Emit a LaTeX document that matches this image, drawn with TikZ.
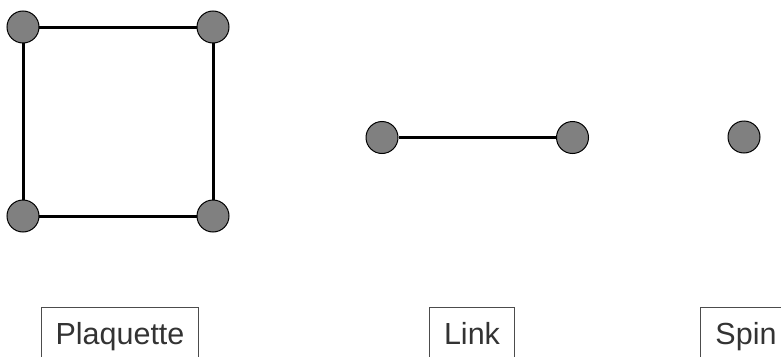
\documentclass[tikz,border=0pt]{standalone}
\usepackage{fontspec}
\setmainfont{Liberation Sans}
\begin{document}
\begin{tikzpicture}[x=1pt,y=-1pt,
  site/.style={circle,draw=black,line width=1pt,fill=black!50,minimum size=32pt,inner sep=0pt},
  bond/.style={line width=3pt,black},
  lbl/.style={draw=black!70,line width=1pt,text=black!80,font=\fontsize{30.5}{35}\selectfont,
    inner xsep=14.5pt,inner ysep=0pt,text height=37pt,text depth=25pt,anchor=base}]
\useasboundingbox (0,0) rectangle (781,356);
% plaquette
\coordinate (p1) at (23,27);
\coordinate (p2) at (213,27);
\coordinate (p3) at (213,216);
\coordinate (p4) at (23,216);
\draw[bond] (p1) -- (p2) -- (p3) -- (p4) -- cycle;
\node[site] (a1) at (p1) {};
\node[site] (a2) at (p2) {};
\node[site] (a3) at (p3) {};
\node[site] (a4) at (p4) {};
% link
\node[site] (b1) at (382,137.5) {};
\node[site] (b2) at (572.5,137.5) {};
\draw[bond] (b1.east) -- (b2.west);
% spin
\node[site] (c1) at (744,137) {};
% labels
\node[lbl] (L1) at (120,344) {Plaquette};
\node[lbl] (L2) at (472,344) {Link};
\node[lbl] (L3) at (746,344) {Spin};
\end{tikzpicture}
\end{document}
